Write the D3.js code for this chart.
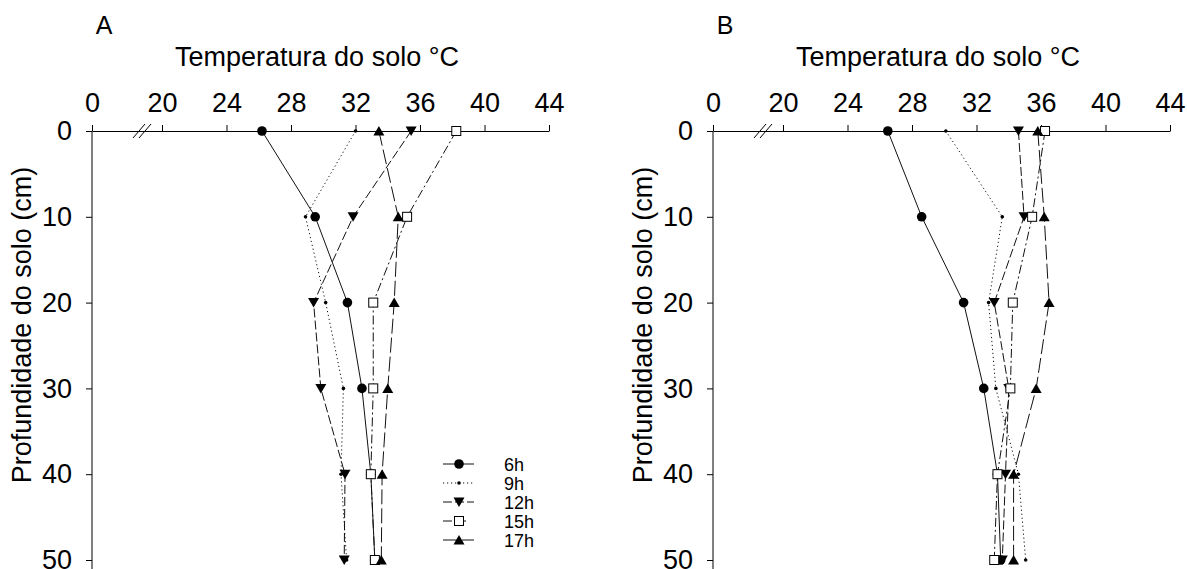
<html>
<script src='https://cdn.jsdelivr.net/npm/d3@7'></script>
<style>
body {margin: 0; background: white;}
text {font-family: 'Liberation Sans', Arial, sans-serif; fill: black;}
</style>
<body>
<svg width=1187 height=569></svg>
<script>
// depths (cm) and temperature ticks
var depths = [0, 10, 20, 30, 40, 50];
var tempTicks = [0, 20, 24, 28, 32, 36, 40, 44];
var hours = ["6h", "9h", "12h", "15h", "17h"];

// panel A
var a6h  = [26.2, 29.5, 31.5, 32.4, 32.95, 33.2];
var a9h  = [32.0, 28.9, 30.15, 31.25, 31.1, 31.45];
var a12h = [35.45, 31.85, 29.4, 29.85, 31.35, 31.3];
var a15h = [38.25, 35.2, 33.1, 33.1, 32.95, 33.2];
var a17h = [33.45, 34.65, 34.4, 34.0, 33.65, 33.6];

// panel B
var b6h  = [26.5, 28.6, 31.2, 32.45, 33.3, 33.5];
var b9h  = [30.1, 33.6, 32.75, 33.2, 34.6, 35.05];
var b12h = [34.6, 34.95, 33.1, 34.0, 33.8, 33.6];
var b15h = [36.25, 35.45, 34.25, 34.1, 33.3, 33.1];
var b17h = [35.8, 36.2, 36.5, 35.7, 34.3, 34.3];

var svg = d3.select("svg");

// broken axis: 0..20 squeezed
var x = d3.scaleLinear().domain([0, 20, 44]).range([0, 70, 457]);
var y = d3.scaleLinear().domain([0, 50]).range([131, 560]);

var dashes = [null, "1.2,2.8", "9,3", "9,3,2,3", "15,4"];
var symbols = ["circle", "dot", "down", "square", "up"];

function marker(g, kind, cx, cy) {
  if (kind == "circle") {
    g.append("circle").attr("cx", cx).attr("cy", cy).attr("r", 4.8).attr("fill", "black");
  } else if (kind == "dot") {
    g.append("circle").attr("cx", cx).attr("cy", cy).attr("r", 1.8).attr("fill", "black");
  } else if (kind == "square") {
    g.append("rect").attr("x", cx - 4.5).attr("y", cy - 4.5).attr("width", 9).attr("height", 9)
      .attr("fill", "white").attr("stroke", "black").attr("stroke-width", 1);
  } else if (kind == "down") {
    g.append("path").attr("d", "M" + (cx - 5.5) + "," + (cy - 4.5) + "L" + (cx + 5.5) + "," + (cy - 4.5) + "L" + cx + "," + (cy + 5) + "Z")
      .attr("fill", "black");
  } else {
    g.append("path").attr("d", "M" + (cx - 5.5) + "," + (cy + 4.5) + "L" + (cx + 5.5) + "," + (cy + 4.5) + "L" + cx + "," + (cy - 5) + "Z")
      .attr("fill", "black");
  }
}

function panel(ox, letter, series) {
  var g = svg.append("g").attr("transform", "translate(" + ox + ",0)");

  g.append("text").attr("x", 12).attr("y", 34).attr("font-size", 25).attr("text-anchor", "middle").text(letter);
  g.append("text").attr("x", 225).attr("y", 66).attr("font-size", 27).attr("text-anchor", "middle")
    .text("Temperatura do solo °C");
  g.append("text").attr("transform", "translate(-61," + 325 + ") rotate(-90)")
    .attr("font-size", 27).attr("text-anchor", "middle").text("Profundidade do solo (cm)");

  var xa = g.append("g").attr("transform", "translate(0,131)")
    .call(d3.axisTop(x).tickValues(tempTicks).tickSize(6).tickSizeOuter(0).tickPadding(13));
  var ya = g.append("g")
    .call(d3.axisLeft(y).tickValues(depths).tickSize(6).tickSizeOuter(0).tickPadding(14));
  g.selectAll(".tick text").attr("font-size", 27).attr("font-family", "'Liberation Sans', Arial, sans-serif");
  g.selectAll(".domain, .tick line").attr("stroke", "black");
  ya.select(".domain").attr("d", "M0,131V569");

  // break marks between 0 and 20
  var bx = 50;
  [-3, 3].forEach(function(o) {
    g.append("line").attr("x1", bx + o - 6).attr("y1", 138).attr("x2", bx + o + 6).attr("y2", 124)
      .attr("stroke", "black").attr("stroke-width", 1);
  });

  var line = d3.line().x(function(d) { return x(d[0]); }).y(function(d) { return y(d[1]); });
  series.forEach(function(vals, i) {
    var pts = vals.map(function(v, j) { return [v, depths[j]]; });
    g.append("path").attr("d", line(pts)).attr("fill", "none").attr("stroke", "#111")
      .attr("stroke-width", 1).attr("stroke-dasharray", dashes[i]);
  });
  series.forEach(function(vals, i) {
    vals.forEach(function(v, j) { marker(g, symbols[i], x(v), y(depths[j])); });
  });
  return g;
}

var gA = panel(92, "A", [a6h, a9h, a12h, a15h, a17h]);
panel(713, "B", [b6h, b9h, b12h, b15h, b17h]);

// legend in panel A
var leg = svg.append("g");
hours.forEach(function(h, i) {
  var ly = 464 + i * 19;
  var x2 = i == 3 ? 466 : 474;
  leg.append("line").attr("x1", 443).attr("x2", x2).attr("y1", ly).attr("y2", ly)
    .attr("stroke", "#111").attr("stroke-width", 1).attr("stroke-dasharray", dashes[i]);
  marker(leg, symbols[i], 459, ly);
  leg.append("text").attr("x", 504).attr("y", ly + 7).attr("font-size", 18).text(h);
});
</script>
</body>
</html>
